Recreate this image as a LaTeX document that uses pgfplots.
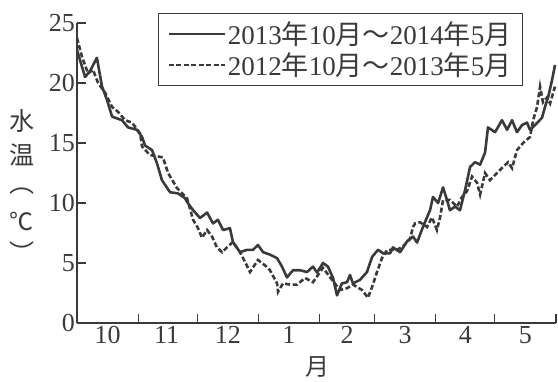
\documentclass[border=0pt]{standalone}
\usepackage{graphicx}
\usepackage{pgfplots}
\pgfplotsset{compat=1.18}
\usepackage{fontspec}
\setmainfont{Liberation Serif}
\newfontfamily\cjk{Noto Sans CJK SC}
\definecolor{ink}{HTML}{3A3A3A}
\begin{document}
\begin{tikzpicture}
\path[use as bounding box] (-77pt,-58pt) rectangle (481pt,323pt);
\begin{axis}[
  at={(0,0)}, anchor=south west,
  scale only axis, width=479pt, height=300pt,
  xmin=0, xmax=243, ymin=0, ymax=25,
  axis x line*=bottom, axis y line*=left,
  axis line style={ink, line width=1.3pt},
  tick style={ink, line width=1.2pt},
  major tick length=9pt, tick align=inside,
  xtick={31,61,92,123,151,182,212,243}, xticklabels={},
  extra x ticks={15.5,45.5,76.5,107.5,137,166.5,197,227.5},
  extra x tick labels={10,11,12,1,2,3,4,5},
  extra x tick style={major tick length=0pt},
  ytick={0,5,10,15,20,25},
  ticklabel style={font=\fontsize{26}{30}\selectfont, text=ink},
  yticklabel style={inner xsep=2pt},
  /pgf/number format/assume math mode=true,
  clip=false,
  legend image code/.code={\draw[#1] (0pt,0pt) -- (56pt,0pt);},
  legend style={at={(axis description cs:0.931,1.033)}, anchor=north east,
    draw=ink, line width=1.2pt, font=\fontsize{27}{31}\selectfont, text=ink,
    inner xsep=9pt, inner ysep=6pt, row sep=3pt, fill=white,
    nodes={inner xsep=2pt}},
  legend cell align=left,
]
\addplot[ink, line width=2.6pt, line join=round] coordinates {
(0,22.75)(4.1,20.5)(6.6,21.0)(10.1,22.1)(12.7,19.7)(15.2,18.6)(17.8,17.2)(22.8,16.9)(25.9,16.3)(30.4,16.1)(33.0,15.5)(34.5,14.8)(38.1,14.4)(40.6,13.3)(43.1,11.9)(47.2,10.9)(51.2,10.8)(54.8,10.4)(55.8,10.1)(58.9,9.4)(62.4,8.75)(66.0,9.2)(69.0,8.3)(71.5,8.6)(74.1,7.75)(77.6,7.9)(79.1,6.75)(82.7,5.9)(86.3,6.1)(89.3,6.1)(91.8,6.5)(94.4,5.9)(97.9,5.7)(101.5,5.4)(104.0,4.7)(106.5,3.8)(109.6,4.4)(113.1,4.4)(116.7,4.25)(119.7,4.7)(121.8,4.2)(124.8,5.0)(127.3,4.7)(129.9,3.75)(131.9,2.3)(134.4,3.3)(137.0,3.4)(138.5,4.0)(140.0,3.3)(143.6,3.6)(147.1,4.25)(149.7,5.5)(152.7,6.1)(155.3,5.8)(158.8,5.8)(160.3,6.3)(163.9,5.9)(167.4,6.8)(170.5,7.2)(172.5,6.7)(175.5,8.0)(179.1,9.4)(180.6,10.5)(183.2,10.0)(185.7,11.3)(187.7,10.25)(189.2,9.4)(191.8,9.7)(194.3,9.4)(196.9,11.1)(199.4,13.0)(201.9,13.4)(204.5,13.2)(207.0,14.2)(208.5,16.3)(212.1,15.9)(215.6,16.9)(218.2,16.1)(220.7,16.9)(223.2,15.9)(225.8,16.5)(228.3,16.7)(229.8,16.1)(232.4,16.5)(235.9,17.1)(237.4,18.0)(239.0,18.8)(241.0,20.25)(242.5,21.5)
};
\addlegendentry{2013{\cjk 年}10{\cjk 月}{\cjk ～}2014{\cjk 年}5{\cjk 月}}
\addplot[ink, line width=2.6pt, dash pattern=on 5pt off 2.5pt] coordinates {
(0,23.75)(2.5,22.2)(5.6,20.8)(8.1,21.1)(10.7,20.0)(14.2,19.2)(17.8,18.0)(20.8,17.6)(24.4,16.9)(27.9,16.7)(32.0,15.8)(33.0,14.7)(37.0,14.0)(43.6,13.8)(46.2,12.5)(50.7,11.25)(55.8,10.4)(58.9,8.6)(61.4,7.9)(63.4,7.1)(66.0,7.75)(68.5,7.2)(71.0,6.3)(73.6,5.9)(76.1,6.3)(79.1,6.75)(82.7,5.9)(85.2,5.1)(87.8,4.25)(91.8,5.25)(95.4,4.8)(97.9,4.4)(101.5,3.3)(102.0,2.6)(104.5,3.3)(108.1,3.2)(111.6,3.2)(115.7,3.75)(119.7,3.4)(124.8,4.6)(128.4,3.8)(133.4,2.75)(137.0,2.9)(140.0,3.2)(144.6,2.75)(147.6,2.1)(149.7,3.0)(152.2,4.25)(154.7,5.4)(157.3,6.1)(162.4,6.1)(165.4,6.4)(168.9,7.0)(170.5,8.0)(171.5,8.3)(174.0,8.4)(177.6,8.0)(180.1,8.8)(182.6,7.75)(184.2,8.8)(185.7,10.25)(189.2,10.25)(192.8,9.7)(195.3,10.5)(197.9,11.0)(200.4,12.2)(202.9,11.7)(204.5,10.7)(207.0,12.5)(209.5,11.9)(213.1,12.5)(216.1,13.0)(218.7,13.4)(220.7,12.9)(223.2,14.4)(226.3,15.0)(229.8,15.5)(231.4,16.9)(233.4,18.0)(234.9,19.7)(236.4,18.4)(238.5,18.8)(240.0,18.3)(242.5,19.7)
};
\addlegendentry{2012{\cjk 年}10{\cjk 月}{\cjk ～}2013{\cjk 年}5{\cjk 月}}
\node[font=\cjk\fontsize{25}{30}\selectfont, text=ink, inner sep=0pt] at (axis description cs:-0.115,0.673) {水};
\node[font=\cjk\fontsize{25}{30}\selectfont, text=ink, inner sep=0pt] at (axis description cs:-0.115,0.56) {温};
\node[font=\cjk\fontsize{25}{30}\selectfont, text=ink, inner sep=0pt] at (axis description cs:-0.115,0.44) {︵};
\node[font=\cjk\fontsize{24}{30}\selectfont, text=ink, inner sep=0pt] at (axis description cs:-0.115,0.337) {℃};
\node[font=\cjk\fontsize{25}{30}\selectfont, text=ink, inner sep=0pt] at (axis description cs:-0.115,0.238) {︶};
\node[font=\cjk\fontsize{24}{28}\selectfont, text=ink] at (axis description cs:0.503,-0.147) {月};
\end{axis}
\end{tikzpicture}
\end{document}
